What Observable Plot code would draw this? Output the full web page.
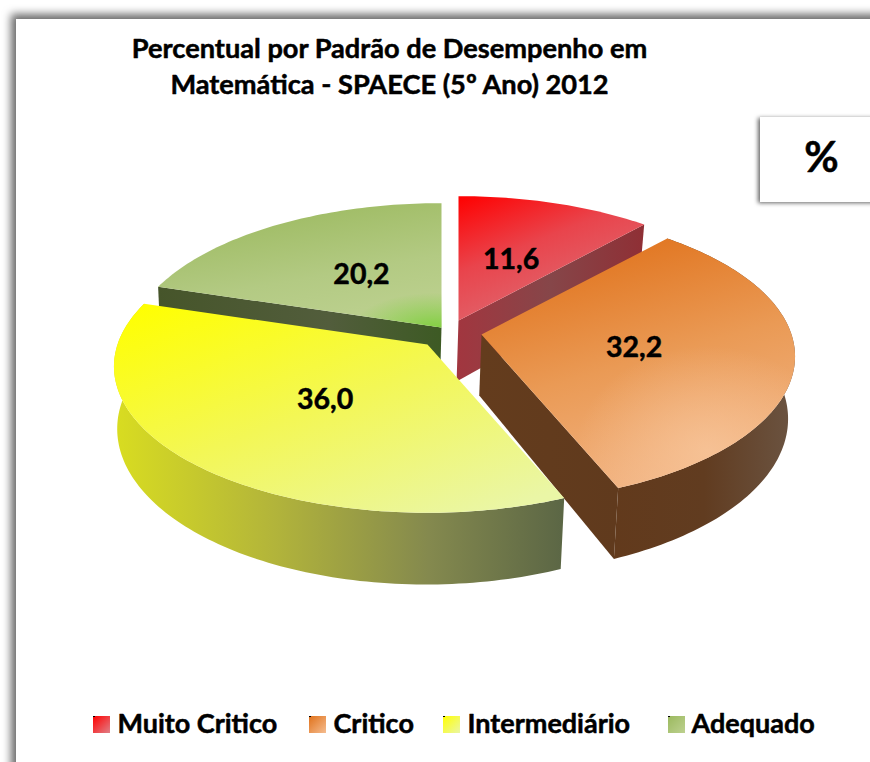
<!DOCTYPE html>
<html lang="pt">
<head>
<meta charset="utf-8">
<script src="https://cdn.jsdelivr.net/npm/d3@7"></script>
<script src="https://cdn.jsdelivr.net/npm/@observablehq/plot@0.6"></script>
<style>
html,body{margin:0;padding:0;background:#fff;overflow:hidden}
svg{display:block}
</style>
</head>
<body>
<div id="chart"></div>
<script>
// ---- data ----
const categories = ["Muito Critico", "Critico", "Intermediário", "Adequado"];
const values = [11.6, 32.2, 36.0, 20.2];
const valueLabels = ["11,6", "32,2", "36,0", "20,2"];
const titleLines = ["Percentual por Padrão de Desempenho em", "Matemática - SPAECE (5º Ano) 2012"];
const unitLabel = "%";

// ---- layout of the exploded, perspective pie ----
const W = 870, H = 762;
const apexX = [458, 481, 427, 441];
const apexY = [320, 334, 344, 327];
const labelNudgeX = [2, 1, 6, 5];
const legendSwatchX = [93, 309, 443, 668];
const legendTextX = [117, 333, 467, 691];
const A = 310, B = 143, K = 0.15, DEPTH = 61, SHRINK = 0.985, VANISH_X = 330;
const FONT = "Lato, 'Open Sans', sans-serif";

const total = d3.sum(values);
let acc = 0;
const slices = values.map((v, i) => {
  const start = acc / total * 2 * Math.PI;
  acc += v;
  return {i, v, start, end: acc / total * 2 * Math.PI};
});

function project(i, t, r = 1) {
  const X = r * Math.sin(t), Z = r * Math.cos(t), s = 1 / (1 + K * Z);
  return {x: apexX[i] + A * X * s, y: apexY[i] - B * Z * s, s};
}
const lower = (p) => ({x: VANISH_X + (p.x - VANISH_X) * SHRINK, y: p.y + DEPTH * p.s});
function arc(i, t0, t1) {
  const n = Math.max(2, Math.ceil(Math.abs(t1 - t0) / 0.02));
  return d3.range(n + 1).map((j) => project(i, t0 + (t1 - t0) * j / n));
}
const topFace = (s) => [{x: apexX[s.i], y: apexY[s.i]}, ...arc(s.i, s.start, s.end)];
function arcWall(s) {
  const a = arc(s.i, s.start, s.end);
  return [...a, ...a.slice().reverse().map(lower)];
}
function radialWall(s, t) {
  const c = {x: apexX[s.i], y: apexY[s.i], s: 1}, e = project(s.i, t);
  return [c, e, lower(e), lower(c)];
}

const poly = (pts, fill) => Plot.line(pts, {x: "x", y: "y", fill, stroke: "none", curve: "linear"});

const defsMark = () => {
  const linear = (id, x1, y1, x2, y2, stops) =>
    `<linearGradient id="${id}" x1="${x1}" y1="${y1}" x2="${x2}" y2="${y2}">` +
    stops.map(([o, c]) => `<stop offset="${o}" stop-color="${c}"/>`).join("") + `</linearGradient>`;
  const radial = (id, cx, cy, r, c, o) =>
    `<radialGradient id="${id}" cx="${cx}" cy="${cy}" r="${r}">` +
    `<stop offset="0" stop-color="${c}" stop-opacity="${o}"/><stop offset="1" stop-color="${c}" stop-opacity="0"/></radialGradient>`;
  return d3.create("svg:defs").html(
    linear("gRed", 0, 0, 0.6, 1, [[0, "#ff0000"], [0.45, "#e9444c"], [1, "#dd7078"]]) +
    linear("gRedSide", 0, 0, 1, 0, [[0, "#a2363f"], [0.5, "#864649"], [1, "#8f2f35"]]) +
    linear("gOrange", 0.3, 0, 0.65, 1, [[0, "#e0711a"], [0.5, "#ea9a55"], [1, "#f2b585"]]) +
    linear("gOrangeSide", 0, 0, 1, 0, [[0, "#623a1c"], [0.5, "#613c20"], [1, "#6b5442"]]) +
    linear("gOrangeCut", 0, 0, 1, 0, [[0, "#643c1d"], [1, "#603a1d"]]) +
    linear("gYellow", 0.05, 0, 0.85, 1, [[0, "#ffff00"], [0.5, "#f3f755"], [1, "#eaf6a6"]]) +
    linear("gYellowSide", 0, 0, 1, 0, [[0, "#d9dd20"], [0.35, "#b3b53a"], [0.7, "#84894e"], [1, "#5b6645"]]) +
    linear("gGreen", 0.3, 0, 0.7, 1, [[0, "#9bb95e"], [0.6, "#b3ca83"], [1, "#bdd190"]]) +
    radial("gGreenSpot", 0.98, 1.02, 0.3, "#7fcf3e", 1) +
    radial("gOrangeSpot", 0.72, 0.85, 0.42, "#f8c79d", 0.75) +
    linear("gGreenSide", 0, 0, 1, 0, [[0, "#46552a"], [0.6, "#525d3c"], [1, "#3d5a24"]]) +
    linear("swRed", 0, 0, 1, 1, [[0, "#ff0000"], [1, "#e08088"]]) +
    linear("swOrange", 0, 0, 1, 1, [[0, "#e0711a"], [1, "#f5bd90"]]) +
    linear("swYellow", 0, 0, 1, 1, [[0, "#ffff00"], [1, "#eaf6a6"]]) +
    linear("swGreen", 0, 0, 1, 1, [[0, "#9bb95e"], [1, "#bdd190"]])
  ).node();
};

const [red, orange, yellow, green] = slices;
const swatchFills = ["url(#swRed)", "url(#swOrange)", "url(#swYellow)", "url(#swGreen)"];

const labelPoints = slices.map((s) => {
  const p = project(s.i, (s.start + s.end) / 2, 0.49);
  return {x: p.x + labelNudgeX[s.i], y: p.y + 1, label: valueLabels[s.i]};
});

const textStyle = {fontFamily: FONT, fontWeight: 700, fill: "#000", stroke: "#000", strokeWidth: 0.5};

const chart = Plot.plot({
  width: W, height: H,
  margin: 0,
  x: {domain: [0, W], range: [0, W], axis: null},
  y: {domain: [0, H], range: [0, H], axis: null},
  style: {background: "#fff"},
  marks: [
    defsMark,
    // frame with soft shadow along the top and left edges
    Plot.rect([0], {x1: () => 16, y1: () => 19, x2: () => W + 40, y2: () => H + 40, fill: "#fff",
      imageFilter: "drop-shadow(-5px -5px 4px #6a6a6a)"}),
    // unit box
    Plot.rect([0], {x1: () => 760, y1: () => 117, x2: () => W + 40, y2: () => 202, fill: "#fff",
      imageFilter: "drop-shadow(-2px 1px 2px #666)"}),
    Plot.text([unitLabel], {x: () => 821, y: () => 158, text: (d) => d, fontSize: 42, ...textStyle}),
    // title
    Plot.text(titleLines, {x: () => 389, y: (d, i) => 49 + i * 36, text: (d) => d, fontSize: 27.2, ...textStyle}),
    // slices, back to front
    poly(radialWall(green, green.start), "url(#gGreenSide)"),
    poly(topFace(green), "url(#gGreen)"),
    poly(topFace(green), "url(#gGreenSpot)"),
    poly(radialWall(red, red.end), "url(#gRedSide)"),
    poly(topFace(red), "url(#gRed)"),
    poly(arcWall(orange), "url(#gOrangeSide)"),
    poly(radialWall(orange, orange.end), "url(#gOrangeCut)"),
    poly(topFace(orange), "url(#gOrange)"),
    poly(topFace(orange), "url(#gOrangeSpot)"),
    poly(arcWall(yellow), "url(#gYellowSide)"),
    poly(topFace(yellow), "url(#gYellow)"),
    // value labels
    Plot.text(labelPoints, {x: "x", y: "y", text: "label", fontSize: 28.5, ...textStyle}),
    // legend
    Plot.rect(categories, {x1: (d, i) => legendSwatchX[i], x2: (d, i) => legendSwatchX[i] + 17,
      y1: () => 716, y2: () => 733, fill: (d, i) => swatchFills[i]}),
    Plot.rect(categories, {x1: (d, i) => legendSwatchX[i], x2: (d, i) => legendSwatchX[i] + 2,
      y1: () => 716, y2: () => 717, fill: "#000"}),
    Plot.text(categories, {x: (d, i) => legendTextX[i], y: () => 724, text: (d) => d, textAnchor: "start", fontSize: 27, ...textStyle})
  ]
});
document.getElementById("chart").append(chart);
</script>
</body>
</html>
